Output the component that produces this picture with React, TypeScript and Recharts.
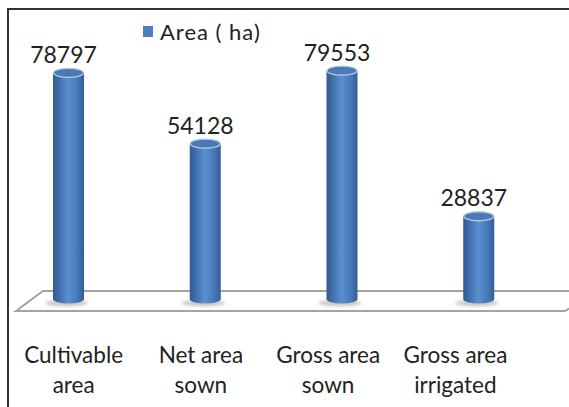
import React from "react";
import { BarChart, Bar, XAxis, YAxis, Legend, LabelList } from "recharts";

const categories = ["Cultivable area", "Net area sown", "Gross area sown", "Gross area irrigated"];
const tickLines = [
  ["Cultivable", "area"],
  ["Net area", "sown"],
  ["Gross area", "sown"],
  ["Gross area", "irrigated"],
];
const areaHa = [78797, 54128, 79553, 28837];
const seriesName = "Area ( ha)";

const data = categories.map((name, i) => ({ name, area: areaHa[i] }));

const W = 569;
const H = 407;
const margin = { top: 12, right: 22, bottom: 8, left: 0 };
const axisHeight = 100;
const plotBottom = H - margin.bottom - axisHeight;
const font = "Lato, 'Open Sans', sans-serif";

function Cylinder(props: any) {
  const { x, y, width, height } = props;
  const rx = width / 2;
  const ry = 4.5;
  const cx = x + rx;
  const bottom = y + height;
  return (
    <g>
      <ellipse cx={cx - 2} cy={bottom + 4} rx={rx + 6} ry={3.5} fill="#000" opacity={0.2} filter="url(#shadowBlur)" />
      <path
        d={`M${x},${y} L${x},${bottom} A${rx},${ry} 0 0 0 ${x + width},${bottom} L${x + width},${y} Z`}
        fill="url(#cylGrad)"
      />
      <ellipse cx={cx} cy={y} rx={rx - 0.5} ry={ry} fill="#4a79b6" stroke="#b8cbe6" strokeWidth={1.3} />
    </g>
  );
}

function ValueLabel(props: any) {
  const { x, y, width, value } = props;
  return (
    <text x={x + width / 2 - 5} y={y - 10} textAnchor="middle" fontSize={23} fill="#222" fontFamily={font}>
      {value}
    </text>
  );
}

function CategoryTick(props: any) {
  const { x, payload } = props;
  const lines = tickLines[categories.indexOf(payload.value)] || [payload.value];
  return (
    <g>
      {lines.map((line, i) => (
        <text
          key={i}
          x={x}
          y={plotBottom + 64 + i * 30}
          textAnchor="middle"
          fontSize={22.5}
          fill="#222"
          fontFamily={font}
        >
          {line}
        </text>
      ))}
    </g>
  );
}

function LegendContent() {
  return (
    <div
      style={{
        display: "flex",
        alignItems: "center",
        fontFamily: font,
        fontSize: 22,
        letterSpacing: 1,
        color: "#222",
        whiteSpace: "nowrap",
      }}
    >
      <span style={{ width: 10, height: 11, background: "#4a7ebf", marginRight: 7, display: "inline-block" }} />
      <span>{seriesName}</span>
    </div>
  );
}

function Floor() {
  const backY = plotBottom - 8;
  const frontY = plotBottom + 12;
  const pts = `16,${frontY} 43,${backY} ${W + 30},${backY} 565,${frontY}`;
  return (
    <svg width={W} height={H} style={{ position: "absolute", left: 0, top: 0 }}>
      <polygon points={pts} fill="#fff" stroke="#a3a3a3" strokeWidth={2} />
    </svg>
  );
}

export default function App() {
  return (
    <div style={{ position: "absolute", left: 0, top: 0, width: W, height: H, background: "#fff", overflow: "hidden" }}>
      <Floor />
      <div
        style={{
          position: "absolute",
          left: 7,
          top: 8,
          width: W,
          height: H,
          borderLeft: "2px solid #333",
          borderTop: "2px solid #333",
        }}
      />
      <div style={{ position: "absolute", left: 0, top: 0 }}>
        <BarChart width={W} height={H} data={data} margin={margin}>
          <defs>
            <linearGradient id="cylGrad" x1="0" y1="0" x2="1" y2="0">
              <stop offset="0%" stopColor="#2f5a92" />
              <stop offset="18%" stopColor="#3f6daa" />
              <stop offset="48%" stopColor="#5b8ed0" />
              <stop offset="75%" stopColor="#4a7cbd" />
              <stop offset="100%" stopColor="#335e97" />
            </linearGradient>
            <filter id="shadowBlur" x="-50%" y="-100%" width="200%" height="300%">
              <feGaussianBlur stdDeviation="1.5" />
            </filter>
          </defs>
          <XAxis xAxisId="bars" dataKey="name" hide />
          <XAxis
            xAxisId="labels"
            dataKey="name"
            height={axisHeight}
            axisLine={false}
            tickLine={false}
            tickSize={0}
            tickMargin={0}
            padding={{ left: 10, right: 28 }}
            interval={0}
            tick={<CategoryTick />}
          />
          <YAxis hide domain={[0, 100000]} />
          <Legend
            layout="vertical"
            align="center"
            verticalAlign="middle"
            wrapperStyle={{ top: 18, left: 143, width: "auto" }}
            content={<LegendContent />}
          />
          <Bar
            xAxisId="bars"
            dataKey="area"
            name={seriesName}
            barSize={31}
            shape={<Cylinder />}
            isAnimationActive={false}
          >
            <LabelList dataKey="area" content={<ValueLabel />} />
          </Bar>
        </BarChart>
      </div>
    </div>
  );
}
